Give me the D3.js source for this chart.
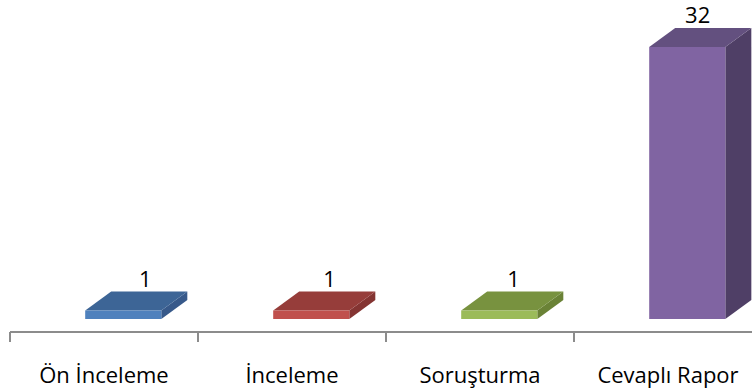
<!DOCTYPE html>
<html>
<head>
<meta charset="utf-8">
<script src="https://cdn.jsdelivr.net/npm/d3@7"></script>
<style>
  html, body { margin: 0; padding: 0; background: #ffffff; }
  svg { display: block; }
  text { font-family: "Open Sans", "Noto Sans", sans-serif; fill: #000; }
</style>
</head>
<body>
<svg id="chart" width="752" height="392"></svg>
<script>
// Case counts by category
const categories = ["Ön İnceleme", "İnceleme", "Soruşturma", "Cevaplı Rapor"];
const values = [1, 1, 1, 32];
const frontColors = ["#4F81BD", "#C0504D", "#9BBB59", "#8064A2"];
const topColors = ["#3D6596", "#963D3A", "#78923F", "#63507F"];
const sideColors = ["#37598A", "#843432", "#6A8236", "#4F3F66"];

const svg = d3.select("#chart");
const W = 752;

// Category axis spans past the right edge, as in a cropped 3D column chart
const x = d3.scaleBand().domain(categories).range([10, 762]).padding(0);
const step = x.step();
const y = d3.scaleLinear().domain([0, 32]).range([319, 47]);

// 3D depth offset for top and side faces
const dx = 26, dy = -19;
const barOffset = step * 0.4;
const barW = step * 0.405;

// Axis line and ticks
const axisY = 332;
svg.append("line")
  .attr("x1", 10).attr("x2", W).attr("y1", axisY).attr("y2", axisY)
  .attr("stroke", "#8C8C8C").attr("stroke-width", 2);
svg.selectAll("line.tick")
  .data(categories)
  .join("line")
  .attr("class", "tick")
  .attr("x1", d => x(d)).attr("x2", d => x(d))
  .attr("y1", axisY).attr("y2", 342)
  .attr("stroke", "#8C8C8C").attr("stroke-width", 2);

// Bars drawn as front, side and top faces
const bars = svg.selectAll("g.bar")
  .data(categories.map((c, i) => ({ c, v: values[i], i })))
  .join("g")
  .attr("class", "bar");

bars.each(function(d) {
  const g = d3.select(this);
  const x0 = x(d.c) + barOffset;
  const x1 = x0 + barW;
  const yt = y(d.v);
  const yb = y(0);
  // side face
  g.append("path")
    .attr("d", `M${x1},${yt} L${x1 + dx},${yt + dy} L${x1 + dx},${yb + dy} L${x1},${yb} Z`)
    .attr("fill", sideColors[d.i]);
  // top face
  g.append("path")
    .attr("d", `M${x0},${yt} L${x0 + dx},${yt + dy} L${x1 + dx},${yt + dy} L${x1},${yt} Z`)
    .attr("fill", topColors[d.i]);
  // front face
  g.append("rect")
    .attr("x", x0).attr("y", yt)
    .attr("width", barW).attr("height", yb - yt)
    .attr("fill", frontColors[d.i]);
  // value label above the bar, shifted by the perspective of the view
  g.append("text")
    .attr("x", x0 + barW / 2 + dx * (0.85 - 0.15 * d.i))
    .attr("y", yt + dy - 5)
    .attr("text-anchor", "middle")
    .style("font-size", "22px")
    .text(d.v);
});

// Category labels
svg.selectAll("text.cat")
  .data(categories)
  .join("text")
  .attr("class", "cat")
  .attr("x", d => x(d) + step / 2)
  .attr("y", 383)
  .attr("text-anchor", "middle")
  .style("font-size", "22px")
  .text(d => d);
</script>
</body>
</html>
